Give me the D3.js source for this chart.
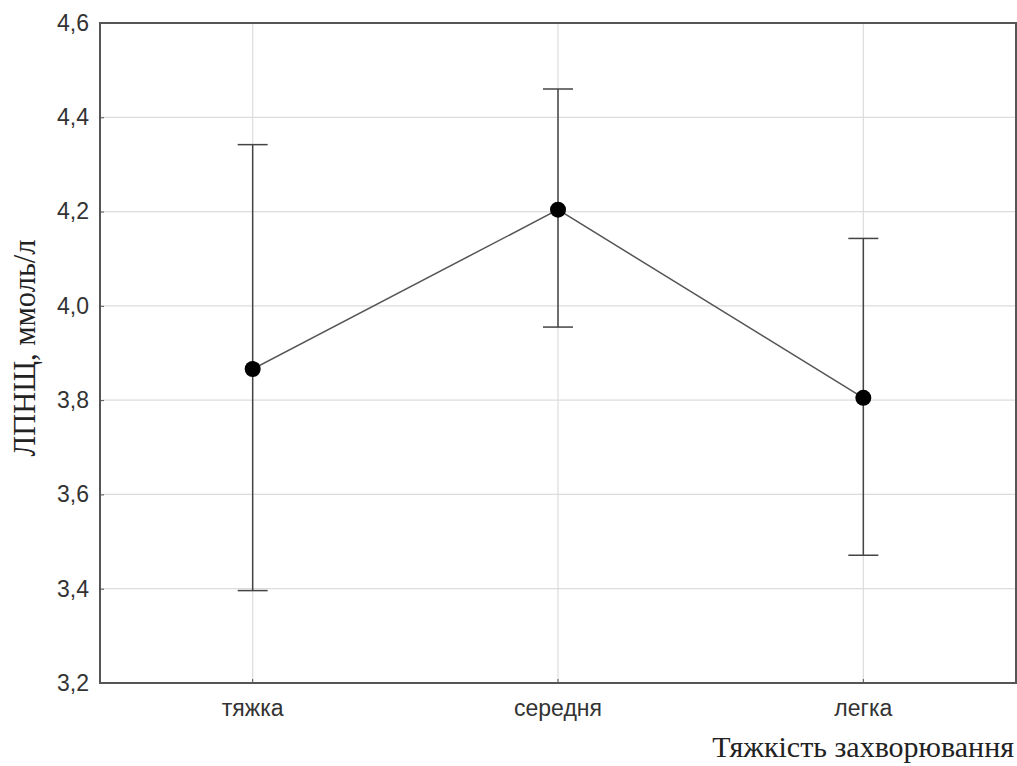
<!DOCTYPE html>
<html><head><meta charset="utf-8">
<script src="https://cdn.jsdelivr.net/npm/d3@7/dist/d3.min.js"></script>
<style>body{margin:0;background:#fff}</style>
</head><body>
<svg id="c" width="1017" height="766"></svg>
<script>
const categories = ["тяжка", "середня", "легка"];
const means = [3.866, 4.204, 3.805];
const upper = [4.342, 4.460, 4.143];
const lower = [3.396, 3.955, 3.471];
const yTicks = [3.2, 3.4, 3.6, 3.8, 4.0, 4.2, 4.4, 4.6];
const yLabel = "ЛПНЩ, ммоль/л";
const xLabel = "Тяжкість захворювання";

const svg = d3.select("#c");
const m = {l: 100, r: 1016, t: 23, b: 683};
const x = d3.scaleBand().domain(categories).range([m.l, m.r]).padding(0);
const y = d3.scaleLinear().domain([3.2, 4.6]).range([m.b, m.t]);
const cx = c => x(c) + x.bandwidth() / 2;

// grid
svg.append("g").selectAll("line").data(yTicks.slice(1, -1)).join("line")
  .attr("x1", m.l).attr("x2", m.r).attr("y1", d => y(d)).attr("y2", d => y(d))
  .attr("stroke", "#dcdcdc").attr("stroke-width", 1.2);
svg.append("g").selectAll("line").data(categories).join("line")
  .attr("x1", d => cx(d)).attr("x2", d => cx(d)).attr("y1", m.t).attr("y2", m.b)
  .attr("stroke", "#dcdcdc").attr("stroke-width", 1.2);

// axes
const yAxis = d3.axisLeft(y).tickValues(yTicks).tickSize(-4).tickPadding(11)
  .tickFormat(d => d3.format(".1f")(d).replace(".", ","));
const gy = svg.append("g").attr("transform", `translate(${m.l},0)`).call(yAxis);
gy.select(".domain").remove();
gy.selectAll("line").attr("stroke", "#555");
gy.selectAll("text").attr("font-family", "Liberation Sans, Arial, sans-serif")
  .attr("font-size", 23).attr("fill", "#333");

const xAxis = d3.axisBottom(x).tickSize(-4).tickPadding(17);
const gx = svg.append("g").attr("transform", `translate(0,${m.b})`).call(xAxis);
gx.select(".domain").remove();
gx.selectAll("line").attr("stroke", "#555");
gx.selectAll("text").attr("font-family", "Liberation Sans, Arial, sans-serif")
  .attr("font-size", 23).attr("fill", "#333");

// frame
svg.append("rect").attr("x", m.l).attr("y", m.t).attr("width", m.r - m.l).attr("height", m.b - m.t)
  .attr("fill", "none").attr("stroke", "#555").attr("stroke-width", 2);

// error bars
const eb = svg.append("g").attr("stroke", "#444").attr("stroke-width", 1.5);
categories.forEach((c, i) => {
  eb.append("line").attr("x1", cx(c)).attr("x2", cx(c)).attr("y1", y(upper[i])).attr("y2", y(lower[i]));
  eb.append("line").attr("x1", cx(c) - 15).attr("x2", cx(c) + 15).attr("y1", y(upper[i])).attr("y2", y(upper[i]));
  eb.append("line").attr("x1", cx(c) - 15).attr("x2", cx(c) + 15).attr("y1", y(lower[i])).attr("y2", y(lower[i]));
});

// mean line
svg.append("path").datum(categories.map((c, i) => [cx(c), y(means[i])]))
  .attr("d", d3.line()).attr("fill", "none").attr("stroke", "#555").attr("stroke-width", 1.5);
svg.append("g").selectAll("circle").data(categories).join("circle")
  .attr("cx", d => cx(d)).attr("cy", (d, i) => y(means[i])).attr("r", 8).attr("fill", "#000");

// labels
svg.append("text").attr("transform", `translate(35,348) rotate(-90)`)
  .attr("text-anchor", "middle").attr("font-family", "Liberation Serif, Times New Roman, serif")
  .attr("font-size", 30.5).attr("fill", "#222").text(yLabel);
svg.append("text").attr("x", 1014).attr("y", 757).attr("text-anchor", "end")
  .attr("font-family", "Liberation Serif, Times New Roman, serif")
  .attr("font-size", 30).attr("fill", "#222").text(xLabel);
</script>
</body></html>
